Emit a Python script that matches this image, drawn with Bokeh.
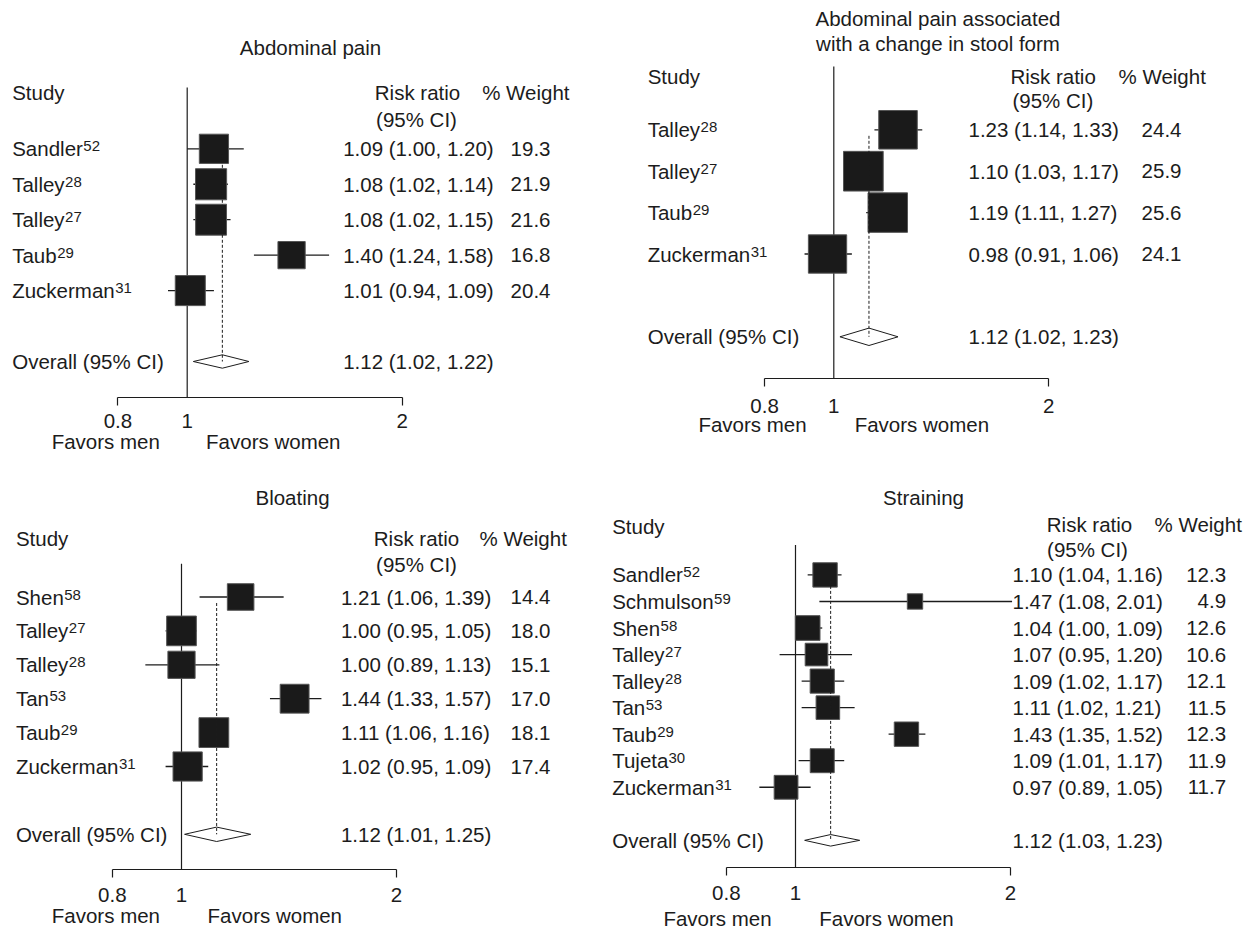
import math
import json
from bokeh.plotting import figure
from bokeh.layouts import column, row
from bokeh.models import Range1d, FixedTicker, LogAxis, CustomJSTickFormatter, ColumnDataSource
from bokeh.core.properties import value
from bokeh.embed import file_html
from bokeh.resources import INLINE

# ---------------- data ----------------
tick_values = [0.8, 1, 2]
null_value = 1.0
favor_labels = ["Favors men", "Favors women"]
hdr_study = "Study"
hdr_rr = "Risk ratio"
hdr_ci = "(95% CI)"
hdr_wt = "% Weight"
overall_label = "Overall (95% CI)"

ap_title = ["Abdominal pain"]
ap_study = ["Sandler", "Talley", "Talley", "Taub", "Zuckerman"]
ap_ref = ["52", "28", "27", "29", "31"]
ap_rr = [1.09, 1.08, 1.08, 1.40, 1.01]
ap_lo = [1.00, 1.02, 1.02, 1.24, 0.94]
ap_hi = [1.20, 1.14, 1.15, 1.58, 1.09]
ap_wt = [19.3, 21.9, 21.6, 16.8, 20.4]
ap_overall = [1.12, 1.02, 1.22]

sf_title = ["Abdominal pain associated", "with a change in stool form"]
sf_study = ["Talley", "Talley", "Taub", "Zuckerman"]
sf_ref = ["28", "27", "29", "31"]
sf_rr = [1.23, 1.10, 1.19, 0.98]
sf_lo = [1.14, 1.03, 1.11, 0.91]
sf_hi = [1.33, 1.17, 1.27, 1.06]
sf_wt = [24.4, 25.9, 25.6, 24.1]
sf_overall = [1.12, 1.02, 1.23]

bl_title = ["Bloating"]
bl_study = ["Shen", "Talley", "Talley", "Tan", "Taub", "Zuckerman"]
bl_ref = ["58", "27", "28", "53", "29", "31"]
bl_rr = [1.21, 1.00, 1.00, 1.44, 1.11, 1.02]
bl_lo = [1.06, 0.95, 0.89, 1.33, 1.06, 0.95]
bl_hi = [1.39, 1.05, 1.13, 1.57, 1.16, 1.09]
bl_wt = [14.4, 18.0, 15.1, 17.0, 18.1, 17.4]
bl_overall = [1.12, 1.01, 1.25]

st_title = ["Straining"]
st_study = ["Sandler", "Schmulson", "Shen", "Talley", "Talley", "Tan", "Taub", "Tujeta", "Zuckerman"]
st_ref = ["52", "59", "58", "27", "28", "53", "29", "30", "31"]
st_rr = [1.10, 1.47, 1.04, 1.07, 1.09, 1.11, 1.43, 1.09, 0.97]
st_lo = [1.04, 1.08, 1.00, 0.95, 1.02, 1.02, 1.35, 1.01, 0.89]
st_hi = [1.16, 2.01, 1.09, 1.20, 1.17, 1.21, 1.52, 1.17, 1.05]
st_wt = [12.3, 4.9, 12.6, 10.6, 12.1, 11.5, 12.3, 11.9, 11.7]
st_overall = [1.12, 1.03, 1.23]
st_ci_spaces = [1, 1, 1, 1, 1, 2, 1, 1, 1]

# ---------------- style ----------------
K = 310.2            # pixels per unit of ln(risk ratio)
FONT = "Liberation Sans"
FS_PX = 20.5
FS = "20.5px"
SUP_FS = "15px"
INK = "#1c1c1c"

ARIAL = {"a": 556, "b": 556, "c": 500, "d": 556, "e": 556, "h": 556, "j": 222,
         "k": 500, "l": 222, "m": 833, "n": 556, "o": 556, "r": 333, "s": 500,
         "t": 278, "u": 556, "y": 500, "S": 667, "T": 611, "Z": 611}
KERN = {("T", "a"): -110, ("T", "u"): -60}


def text_width(s, size):
    w = sum(ARIAL.get(ch, 556) for ch in s)
    w += sum(KERN.get((a, b), 0) for a, b in zip(s, s[1:]))
    return w * size / 1000.0


LAYOUT = {
    "ap": dict(left=0, top=0, w=600, h=460, x1=186.7, axis=397, r0=148.3, s=35.45, vtop=87,
               title_x=310, title_y=[46.7], study=(11.7, 92), rr_hdr=(417, 92), ci_hdr=(416, 119),
               wt_hdr=(481.7, 92), name_x=11.7, ci_x=342.7, wt_x=550, tick_sd=8, fav_sd=-1,
               fav_x=(105.3, 272.8), box_k=6.65, dia=6.7),
    "sf": dict(left=600, top=0, w=652, h=460, x1=833.3, axis=378, r0=129.3, s=41.4, vtop=66,
               title_x=937.5, title_y=[18.3, 42.7], study=(647.2, 76), rr_hdr=(1052.6, 76),
               ci_hdr=(1052.4, 100), wt_hdr=(1118, 76), name_x=647.2, ci_x=968, wt_x=1181,
               tick_sd=12, fav_sd=-3, fav_x=(752, 921.4), box_k=7.8, dia=8.7),
    "bl": dict(left=0, top=460, w=600, h=472, x1=181, axis=869, r0=596.5, s=33.9, vtop=563.3,
               title_x=292, title_y=[496.7], study=(15.4, 538.3), rr_hdr=(416, 538.3),
               ci_hdr=(416, 564), wt_hdr=(479, 538.3), name_x=15.4, ci_x=340.4, wt_x=550,
               tick_sd=10, fav_sd=-1, fav_x=(105.4, 274.3), box_k=7.0, dia=7.2),
    "st": dict(left=600, top=460, w=652, h=472, x1=795, axis=869, r0=575, s=26.67, vtop=545,
               title_x=923, title_y=[496.7], study=(611.7, 526.7), rr_hdr=(1089, 524.5),
               ci_hdr=(1087, 549.5), wt_hdr=(1154, 524.5), name_x=611.7, ci_x=1012, wt_x=1225.6,
               tick_sd=10, fav_sd=4, fav_x=(717, 886), box_k=6.95, dia=5.8),
}


def build(P, title, study, ref, rr, lo, hi, wt, overall, ci_spaces=None):
    x1, s, r0 = P["x1"], P["s"], P["r0"]

    def xv(px):
        return math.exp((px - x1) / K)

    def yv(py):
        return (py - r0) / s

    frame_h = P["axis"] - P["top"]
    p = figure(width=P["w"], height=P["h"], x_axis_type="log",
               x_range=Range1d(xv(P["left"]), xv(P["left"] + P["w"])),
               y_range=Range1d(yv(P["axis"]), yv(P["top"])),
               y_axis_location=None, toolbar_location=None, tools="",
               output_backend="svg", min_border_left=0, min_border_right=0,
               min_border_top=0, min_border_bottom=P["h"] - frame_h)
    p.grid.visible = False
    p.outline_line_color = None
    p.background_fill_color = "white"
    p.border_fill_color = "white"

    n = len(study)
    rows = list(range(n))
    yo = n + 1
    if ci_spaces is None:
        ci_spaces = [1] * n

    # reference line at null value
    p.segment(x0=[null_value], y0=[yv(P["vtop"])], x1=[null_value], y1=[yv(P["axis"])],
              line_color=INK, line_width=1.2)

    # confidence intervals
    p.segment(x0=lo, y0=rows, x1=hi, y1=rows, line_color=INK, line_width=1.3)

    # weighted squares
    sizes = [P["box_k"] * math.sqrt(w) for w in wt]
    p.scatter(x=rr, y=rows, size=sizes, marker="square", fill_color="#1a1a1a",
              line_color="#555555", line_width=1)

    # overall diamond
    d = P["dia"] / s
    p.patch(x=[overall[1], overall[0], overall[2], overall[0]],
            y=[yo, yo - d, yo, yo + d], fill_color="white", line_color=INK, line_width=1)

    # dashed line at overall estimate
    p.segment(x0=[overall[0]], y0=[6.0 / s], x1=[overall[0]], y1=[yo],
              line_color=INK, line_width=1, line_dash="3 2")

    tk = dict(text_font=value(FONT), text_color=INK, text_baseline="middle")

    # titles
    p.text(x=[xv(P["title_x"])] * len(title), y=[yv(t) for t in P["title_y"]], text=title,
           text_font_size=FS, text_align="center", **tk)

    # headers
    p.text(x=[xv(P["study"][0])], y=[yv(P["study"][1])], text=[hdr_study],
           text_font_size=FS, text_align="left", **tk)
    p.text(x=[xv(P["rr_hdr"][0]), xv(P["ci_hdr"][0])], y=[yv(P["rr_hdr"][1]), yv(P["ci_hdr"][1])],
           text=[hdr_rr, hdr_ci], text_font_size=FS, text_align="center", **tk)
    p.text(x=[xv(P["wt_hdr"][0])], y=[yv(P["wt_hdr"][1])], text=[hdr_wt],
           text_font_size=FS, text_align="left", **tk)

    # study names + superscript references
    nx = xv(P["name_x"])
    p.text(x=[nx] * (n + 1), y=rows + [yo], text=study + [overall_label],
           text_font_size=FS, text_align="left", **tk)
    sup = ColumnDataSource(dict(x=[nx] * n, y=rows, text=ref,
                                xo=[text_width(nm, FS_PX) + 0.5 for nm in study]))
    p.text(x="x", y="y", text="text", x_offset="xo", y_offset=-2.5, source=sup,
           text_font_size=SUP_FS, text_align="left", **tk)

    # CI strings
    ci_txt = ["%.2f (%.2f,%s%.2f)" % (a, b, " " * sp, c) for a, b, c, sp in zip(rr, lo, hi, ci_spaces)]
    ci_txt.append("%.2f (%.2f, %.2f)" % (overall[0], overall[1], overall[2]))
    p.text(x=[xv(P["ci_x"])] * (n + 1), y=rows + [yo], text=ci_txt,
           text_font_size=FS, text_align="left", **tk)

    # weights
    p.text(x=[xv(P["wt_x"])] * n, y=rows, text=["%.1f" % w for w in wt],
           text_font_size=FS, text_align="right", **tk)

    # x axis
    ax = p.xaxis[0]
    ax.ticker = FixedTicker(ticks=tick_values, minor_ticks=[tick_values[0], tick_values[-1]])
    ax.formatter = CustomJSTickFormatter(code="return tick.toString();")
    ax.bounds = (tick_values[0], tick_values[-1])
    ax.axis_line_color = INK
    ax.axis_line_width = 1.2
    ax.major_tick_line_color = None
    ax.major_tick_out = 0
    ax.major_tick_in = 0
    ax.minor_tick_line_color = INK
    ax.minor_tick_line_width = 1.2
    ax.minor_tick_out = 8
    ax.minor_tick_in = 0
    ax.major_label_text_font = FONT
    ax.major_label_text_font_size = FS
    ax.major_label_text_color = INK
    ax.major_label_standoff = P["tick_sd"]

    fav_code = "return tick < 1 ? %s : %s;" % (json.dumps(favor_labels[0]), json.dumps(favor_labels[1]))
    fav = LogAxis(ticker=FixedTicker(ticks=[xv(P["fav_x"][0]), xv(P["fav_x"][1])], minor_ticks=[]),
                  formatter=CustomJSTickFormatter(code=fav_code),
                  axis_line_color=None, major_tick_line_color=None, minor_tick_line_color=None,
                  major_tick_out=0, major_tick_in=0, minor_tick_out=0, minor_tick_in=0,
                  major_label_standoff=P["fav_sd"], major_label_text_font=FONT,
                  major_label_text_font_size=FS, major_label_text_color=INK)
    p.add_layout(fav, "below")
    return p


p1 = build(LAYOUT["ap"], ap_title, ap_study, ap_ref, ap_rr, ap_lo, ap_hi, ap_wt, ap_overall)
p2 = build(LAYOUT["sf"], sf_title, sf_study, sf_ref, sf_rr, sf_lo, sf_hi, sf_wt, sf_overall)
p3 = build(LAYOUT["bl"], bl_title, bl_study, bl_ref, bl_rr, bl_lo, bl_hi, bl_wt, bl_overall)
p4 = build(LAYOUT["st"], st_title, st_study, st_ref, st_rr, st_lo, st_hi, st_wt, st_overall, st_ci_spaces)

layout = row(column(p1, p3), column(p2, p4))
open("out.html", "w").write(file_html(layout, INLINE))
